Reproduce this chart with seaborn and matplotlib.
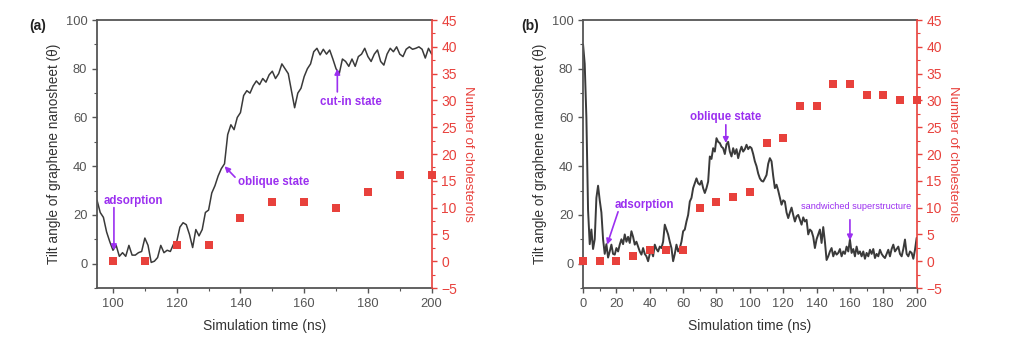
import numpy as np
import pandas as pd
import matplotlib
matplotlib.use("Agg")
import matplotlib.pyplot as plt
from matplotlib.ticker import MultipleLocator
import seaborn as sns

# ---- panel (a): tilt angle vs time, 95-200 ns ----
time_a = list(range(95, 201))
angle_a = [26, 21, 19, 13, 9, 5.5, 7.5, 3, 4.5, 3, 7.5, 3.5, 3.5, 4.5, 5,
           10.5, 7.5, 0.5, 1, 2.5, 7.5, 4.5, 5.5, 5, 8, 9, 15, 16.8, 16, 12,
           6.6, 14, 11.4, 14, 21, 22, 29, 32, 36, 39, 41, 53, 57, 55, 60,
           62, 69, 71, 70, 73, 75, 73.5, 76, 74.5, 77.5, 79, 76, 78, 82, 80,
           78, 71, 64, 70, 72, 76.8, 80, 82, 87, 88.4, 85.7, 88, 86, 87.7, 84,
           80, 78, 84, 83, 81, 84, 81, 85, 86, 88.4, 85, 83, 86, 87.7, 83,
           81.5, 86, 88.4, 87, 89, 86, 85, 88, 89, 88, 88.4, 89, 88, 84.4,
           88.4, 86]
chol_time_a = [100, 110, 120, 130, 140, 150, 160, 170, 180, 190, 200]
chol_a = [0, 0, 3, 3, 8, 11, 11, 10, 13, 16, 16]

# ---- panel (b): tilt angle vs time, 0-200 ns ----
time_b = list(range(0, 201))
angle_b = [90, 82, 60, 22, 8, 14, 6, 10, 27, 32, 26, 21, 10, 4, 8, 2.5, 5,
           7.8, 4, 3.7, 6.4, 5, 7.8, 10, 8, 12, 9, 11, 8.5, 13.3, 11, 7.8, 9,
           7, 5, 3.7, 6.4, 4, 3, 1, 4, 5, 3, 7.8, 6, 5, 7, 6.4, 9, 16, 14, 12,
           9, 6.4, 1, 4, 7.8, 5, 6.4, 9, 13.3, 14, 17.3, 20, 25.5, 27, 31, 33,
           35, 33, 32.4, 34, 31, 29, 31, 33.7, 44, 43, 47.4, 46, 51.5, 50,
           49.5, 48, 47.4, 45, 49, 50, 46, 44, 47.4, 45, 47, 43.3, 46, 48, 46,
           47, 48.8, 47, 48, 47.4, 45, 42, 40, 37, 35, 34, 33.7, 35, 36.4, 41,
           43.3, 42, 36, 31, 32.4, 30, 27, 24.2, 26, 25.5, 21, 18.7, 21, 23,
           20, 17.3, 19.4, 20, 18, 16, 19, 17.3, 18, 12, 14, 13.3, 11, 6.4, 10,
           12, 14, 8.5, 15, 9, 1.5, 3, 5, 6.4, 3, 5, 3.7, 4.4, 6, 3, 5, 4, 7,
           5, 9.9, 4.4, 6, 3, 7, 4, 5, 3, 5, 2, 4.4, 3, 5.7, 4, 6, 2.3, 4, 3,
           5.7, 4, 3, 2.3, 4, 5.7, 3, 6, 7.8, 5, 6, 7, 4, 3, 6, 9.9, 4, 3, 5,
           4.4, 2, 5.7, 10.6]
chol_time_b = list(range(0, 201, 10))
chol_b = [0, 0, 0, 1, 2, 2, 2, 10, 11, 12, 13, 22, 23, 29, 29, 33, 33, 31,
          31, 30, 30]

LINE = "#3a3a3a"
RED = "#e8413c"
PURPLE = "#9b2ff0"
GREY = "#555555"

sns.set_style("ticks")
plt.rcParams["font.family"] = ["Liberation Sans", "DejaVu Sans"]
plt.rcParams["xtick.direction"] = "out"
plt.rcParams["ytick.direction"] = "out"

fig = plt.figure(figsize=(10.14, 3.48), dpi=100)
ax_a = fig.add_axes([0.0957, 0.1724, 0.330, 0.770])
ax_b = fig.add_axes([0.575, 0.1724, 0.329, 0.770])


def style_panel(ax, xlim, xmajor, xminor):
    ax.set_xlim(*xlim)
    ax.set_ylim(-10, 100)
    ax.xaxis.set_major_locator(MultipleLocator(xmajor))
    ax.xaxis.set_minor_locator(MultipleLocator(xminor))
    ax.yaxis.set_minor_locator(MultipleLocator(10))
    ax.set_yticks([0, 20, 40, 60, 80, 100])
    for side in ["left", "bottom", "top"]:
        ax.spines[side].set_color("#555555")
        ax.spines[side].set_linewidth(1.3)
    ax.spines["top"].set_visible(True)
    ax.spines["right"].set_visible(False)
    ax.tick_params(axis="both", which="major", length=3.5, width=1,
                   colors="#555555", labelsize=9.3, labelcolor=GREY)
    ax.tick_params(axis="both", which="minor", length=2, width=0.8,
                   colors="#555555")
    ax.set_xlabel("Simulation time (ns)", fontsize=10, color="#333333",
                  labelpad=7)
    ax.set_ylabel("Tilt angle of graphene nanosheet (\u03b8)", fontsize=9.8,
                  color="#333333", labelpad=3)


def style_twin(tw):
    tw.set_ylim(-5, 45)
    tw.yaxis.set_major_locator(MultipleLocator(5))
    tw.yaxis.set_minor_locator(MultipleLocator(2.5))
    for side in ["left", "bottom", "top"]:
        tw.spines[side].set_visible(False)
    tw.spines["right"].set_visible(True)
    tw.spines["right"].set_color(RED)
    tw.spines["right"].set_linewidth(1.2)
    tw.tick_params(axis="y", which="major", length=3.5, width=1, colors=RED,
                   labelsize=10, labelcolor=RED)
    tw.tick_params(axis="y", which="minor", length=2, width=0.8, colors=RED)
    tw.set_ylabel("Number of cholesterols", fontsize=9.5, color=RED,
                  rotation=270, labelpad=12)


def callout(ax, text, tail, tip, at, size=8.3, ha="center", bold=True):
    ax.annotate("", xy=tip, xytext=tail,
                arrowprops=dict(arrowstyle="-|>", color=PURPLE, lw=1.2,
                                mutation_scale=8, shrinkA=0, shrinkB=0))
    ax.text(at[0], at[1], text, ha=ha, va="center", fontsize=size,
            color=PURPLE, fontweight="bold" if bold else "normal")


# panel (a)
df_a = pd.DataFrame({"t": time_a, "angle": angle_a})
sns.lineplot(data=df_a, x="t", y="angle", ax=ax_a, color=LINE, lw=1.1,
             estimator=None, sort=False)
style_panel(ax_a, (95, 200), 20, 10)
tw_a = ax_a.twinx()
sns.scatterplot(x=chol_time_a, y=chol_a, ax=tw_a, marker="s", s=36,
                color=RED, edgecolor=RED, linewidth=0, zorder=5, clip_on=False)
style_twin(tw_a)

callout(ax_a, "adsorption", tail=(100.3, 23), tip=(100.3, 5.5),
        at=(106.4, 25.8))
callout(ax_a, "oblique state", tail=(138.3, 35.5), tip=(135, 40),
        at=(139.3, 33.6), ha="left")
callout(ax_a, "cut-in state", tail=(170.4, 70.5), tip=(170.4, 80),
        at=(174.8, 66.3))

# panel (b)
df_b = pd.DataFrame({"t": time_b, "angle": angle_b})
sns.lineplot(data=df_b, x="t", y="angle", ax=ax_b, color=LINE, lw=1.4,
             estimator=None, sort=False)
style_panel(ax_b, (0, 200), 20, 10)
tw_b = ax_b.twinx()
sns.scatterplot(x=chol_time_b, y=chol_b, ax=tw_b, marker="s", s=36,
                color=RED, edgecolor=RED, linewidth=0, zorder=5, clip_on=False)
style_twin(tw_b)

callout(ax_b, "adsorption", tail=(21, 21.3), tip=(14.4, 7.8),
        at=(36.5, 23.9))
callout(ax_b, "oblique state", tail=(85.6, 57), tip=(85.6, 49.5),
        at=(85.6, 60.2))
callout(ax_b, "sandwiched superstructure", tail=(160, 18), tip=(160, 9.5),
        at=(163.5, 23.5), size=6.6, bold=False)

fig.text(38 / 1014, 1 - 26 / 348, "(a)", fontsize=10, fontweight="bold",
         ha="center", va="center", color="#222222")
fig.text(530 / 1014, 1 - 26 / 348, "(b)", fontsize=10, fontweight="bold",
         ha="center", va="center", color="#222222")

fig.savefig("out.png", dpi=100)
